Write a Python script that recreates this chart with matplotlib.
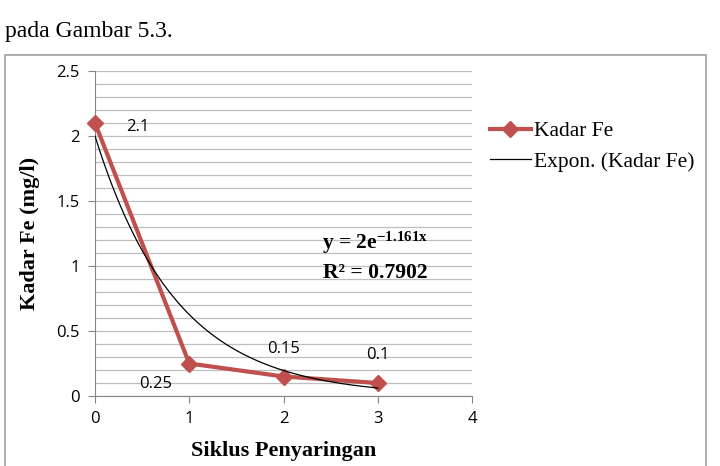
import numpy as np
import matplotlib
matplotlib.use('Agg')
import matplotlib.pyplot as plt
from matplotlib.patches import Rectangle

plt.rcParams['mathtext.fontset'] = 'custom'
plt.rcParams['mathtext.rm'] = 'Liberation Serif:bold'
plt.rcParams['mathtext.bf'] = 'Liberation Serif:bold'
plt.rcParams['mathtext.it'] = 'Liberation Serif:bold'
plt.rcParams['axes.unicode_minus'] = False

# Data
siklus = [0, 1, 2, 3]
kadar_fe = [2.1, 0.25, 0.15, 0.1]
data_labels = ['2.1', '0.25', '0.15', '0.1']
label_offsets = [(0.45, -0.03), (-0.36, -0.16), (0.0, 0.21), (0.0, 0.215)]

x_ticks = [0, 1, 2, 3, 4]
y_ticks = [0, 0.5, 1, 1.5, 2, 2.5]
y_tick_labels = ['0', '0.5', '1', '1.5', '2', '2.5']

# Exponential trendline parameters (from chart)
trend_a = 2.0
trend_b = -1.161
trend_eq = 'y = 2e$^{\\mathrm{-1.161x}}$'
trend_r2 = 'R² = 0.7902'

red = '#C0504D'
grid_gray = '#BFBFBF'
axis_gray = '#868686'

fig = plt.figure(figsize=(7.2, 4.66), dpi=100)
ax = fig.add_axes([95 / 720, 1 - 396 / 466, 377 / 720, 325 / 466])

# outer chart frame
fig.patches.append(Rectangle((5 / 720, -0.01), 701 / 720, 1 - 55 / 466 + 0.01,
                             transform=fig.transFigure, fill=False,
                             edgecolor='#A0A0A0', linewidth=1.2))

fig.text(5 / 720, 1 - 32 / 466, 'pada Gambar 5.3.', family='Liberation Serif',
         fontsize=17, va='center', ha='left')

ax.plot(siklus, kadar_fe, color=red, linewidth=3, marker='D', markersize=8,
        label='Kadar Fe', zorder=3, clip_on=False)

xt = np.linspace(0, 3, 200)
ax.plot(xt, trend_a * np.exp(trend_b * xt), color='black', linewidth=0.9,
        label='Expon. (Kadar Fe)', zorder=4)

for x, y, t, (dx, dy) in zip(siklus, kadar_fe, data_labels, label_offsets):
    ax.text(x + dx, y + dy, t, ha='center', va='center', fontsize=12,
            family='Open Sans')

ax.text(2.97, 1.18, trend_eq, ha='center', va='center', fontsize=15.5,
        family='Liberation Serif', fontweight='bold')
ax.text(2.97, 0.95, trend_r2, ha='center', va='center', fontsize=15.5,
        family='Liberation Serif', fontweight='bold')

ax.set_xlim(0, 4)
ax.set_ylim(0, 2.5)
ax.set_xticks(x_ticks)
ax.set_xticklabels([str(v) for v in x_ticks])
ax.set_yticks(y_ticks)
ax.set_yticklabels(y_tick_labels)
ax.set_yticks(np.arange(0, 2.55, 0.1), minor=True)
ax.grid(which='both', axis='y', color=grid_gray, linewidth=0.9)
ax.set_axisbelow(True)
for lab in ax.get_xticklabels() + ax.get_yticklabels():
    lab.set_family('Open Sans')
    lab.set_fontsize(12)
ax.tick_params(which='major', length=5, color=axis_gray, pad=6)
ax.tick_params(which='minor', length=0)

for side in ['top', 'right']:
    ax.spines[side].set_visible(False)
for side in ['left', 'bottom']:
    ax.spines[side].set_color(axis_gray)

ax.set_xlabel('Siklus Penyaringan', family='Liberation Serif', fontweight='bold',
              fontsize=16, labelpad=10)
ax.set_ylabel('Kadar Fe (mg/l)', family='Liberation Serif', fontweight='bold',
              fontsize=16, labelpad=12)

fig.legend(loc='upper left', bbox_to_anchor=(490 / 720, 1 - 121 / 466),
           frameon=False, prop={'family': 'Liberation Serif', 'size': 15.5},
           handlelength=1.9, labelspacing=0.5, handletextpad=0.15,
           borderpad=0, borderaxespad=0)

fig.savefig('out.png', dpi=100)
